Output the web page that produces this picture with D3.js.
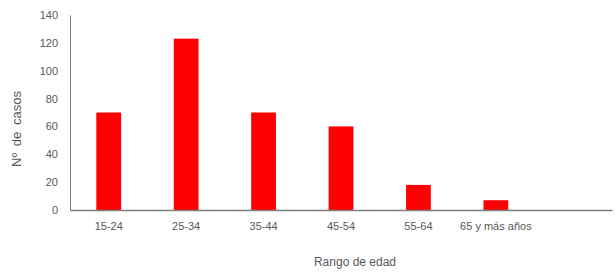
<!DOCTYPE html>
<html>
<head>
<meta charset="utf-8">
<script src="https://cdn.jsdelivr.net/npm/d3@7"></script>
<style>
  body { margin: 0; background: #fff; }
  text { font-family: "Liberation Sans", Arial, sans-serif; fill: #595959; }
</style>
</head>
<body>
<script>
// categories and counts
var categories = ["15-24", "25-34", "35-44", "45-54", "55-64", "65 y más años", ""];
var casos = [70, 123, 70, 60, 18, 7, null];
var yTicks = [0, 20, 40, 60, 80, 100, 120, 140];

var width = 615, height = 275;
var margin = {top: 15, right: 3, bottom: 65, left: 70};

var svg = d3.select("body")
  .append("svg")
  .attr("width", width)
  .attr("height", height);

// x scale: one band per category, the last one stays empty
var xScale = d3.scaleBand()
  .domain(categories.map(function(d, i) { return i; }))
  .range([margin.left, width - margin.right])
  .paddingInner(0.68)
  .paddingOuter(0.34);

var yScale = d3.scaleLinear()
  .domain([0, 140])
  .range([height - margin.bottom, margin.top]);

// bars
svg.selectAll("rect.bar")
  .data(casos.filter(function(d) { return d != null; }))
  .enter()
  .append("rect")
  .attr("class", "bar")
  .attr("x", function(d, i) { return xScale(i); })
  .attr("y", function(d) { return yScale(d); })
  .attr("width", xScale.bandwidth())
  .attr("height", function(d) { return yScale(0) - yScale(d); })
  .attr("fill", "#ff0000");

// y axis
var yAxis = svg.append("g")
  .attr("transform", "translate(" + margin.left + ",0)")
  .call(d3.axisLeft(yScale).tickValues(yTicks).tickSize(0).tickPadding(12));
yAxis.select(".domain").attr("stroke", "#7f7f7f").attr("stroke-width", 1);
yAxis.selectAll("text").style("font-size", "11px").attr("fill", "#595959");

// x axis
var xAxis = svg.append("g")
  .attr("transform", "translate(0," + yScale(0) + ")")
  .call(d3.axisBottom(xScale).tickSize(0).tickPadding(12)
    .tickFormat(function(i) { return categories[i]; }));
xAxis.select(".domain").attr("stroke", "#7f7f7f").attr("stroke-width", 1.5);
xAxis.selectAll("text").style("font-size", "11px").attr("fill", "#595959");

// axis titles
svg.append("text")
  .attr("x", 355)
  .attr("y", 266)
  .attr("text-anchor", "middle")
  .style("font-size", "12px")
  .text("Rango de edad");

svg.append("text")
  .attr("transform", "translate(21,129) rotate(-90)")
  .attr("text-anchor", "middle")
  .style("font-size", "13px")
  .style("word-spacing", "3px")
  .text("Nº de casos");
</script>
</body>
</html>
